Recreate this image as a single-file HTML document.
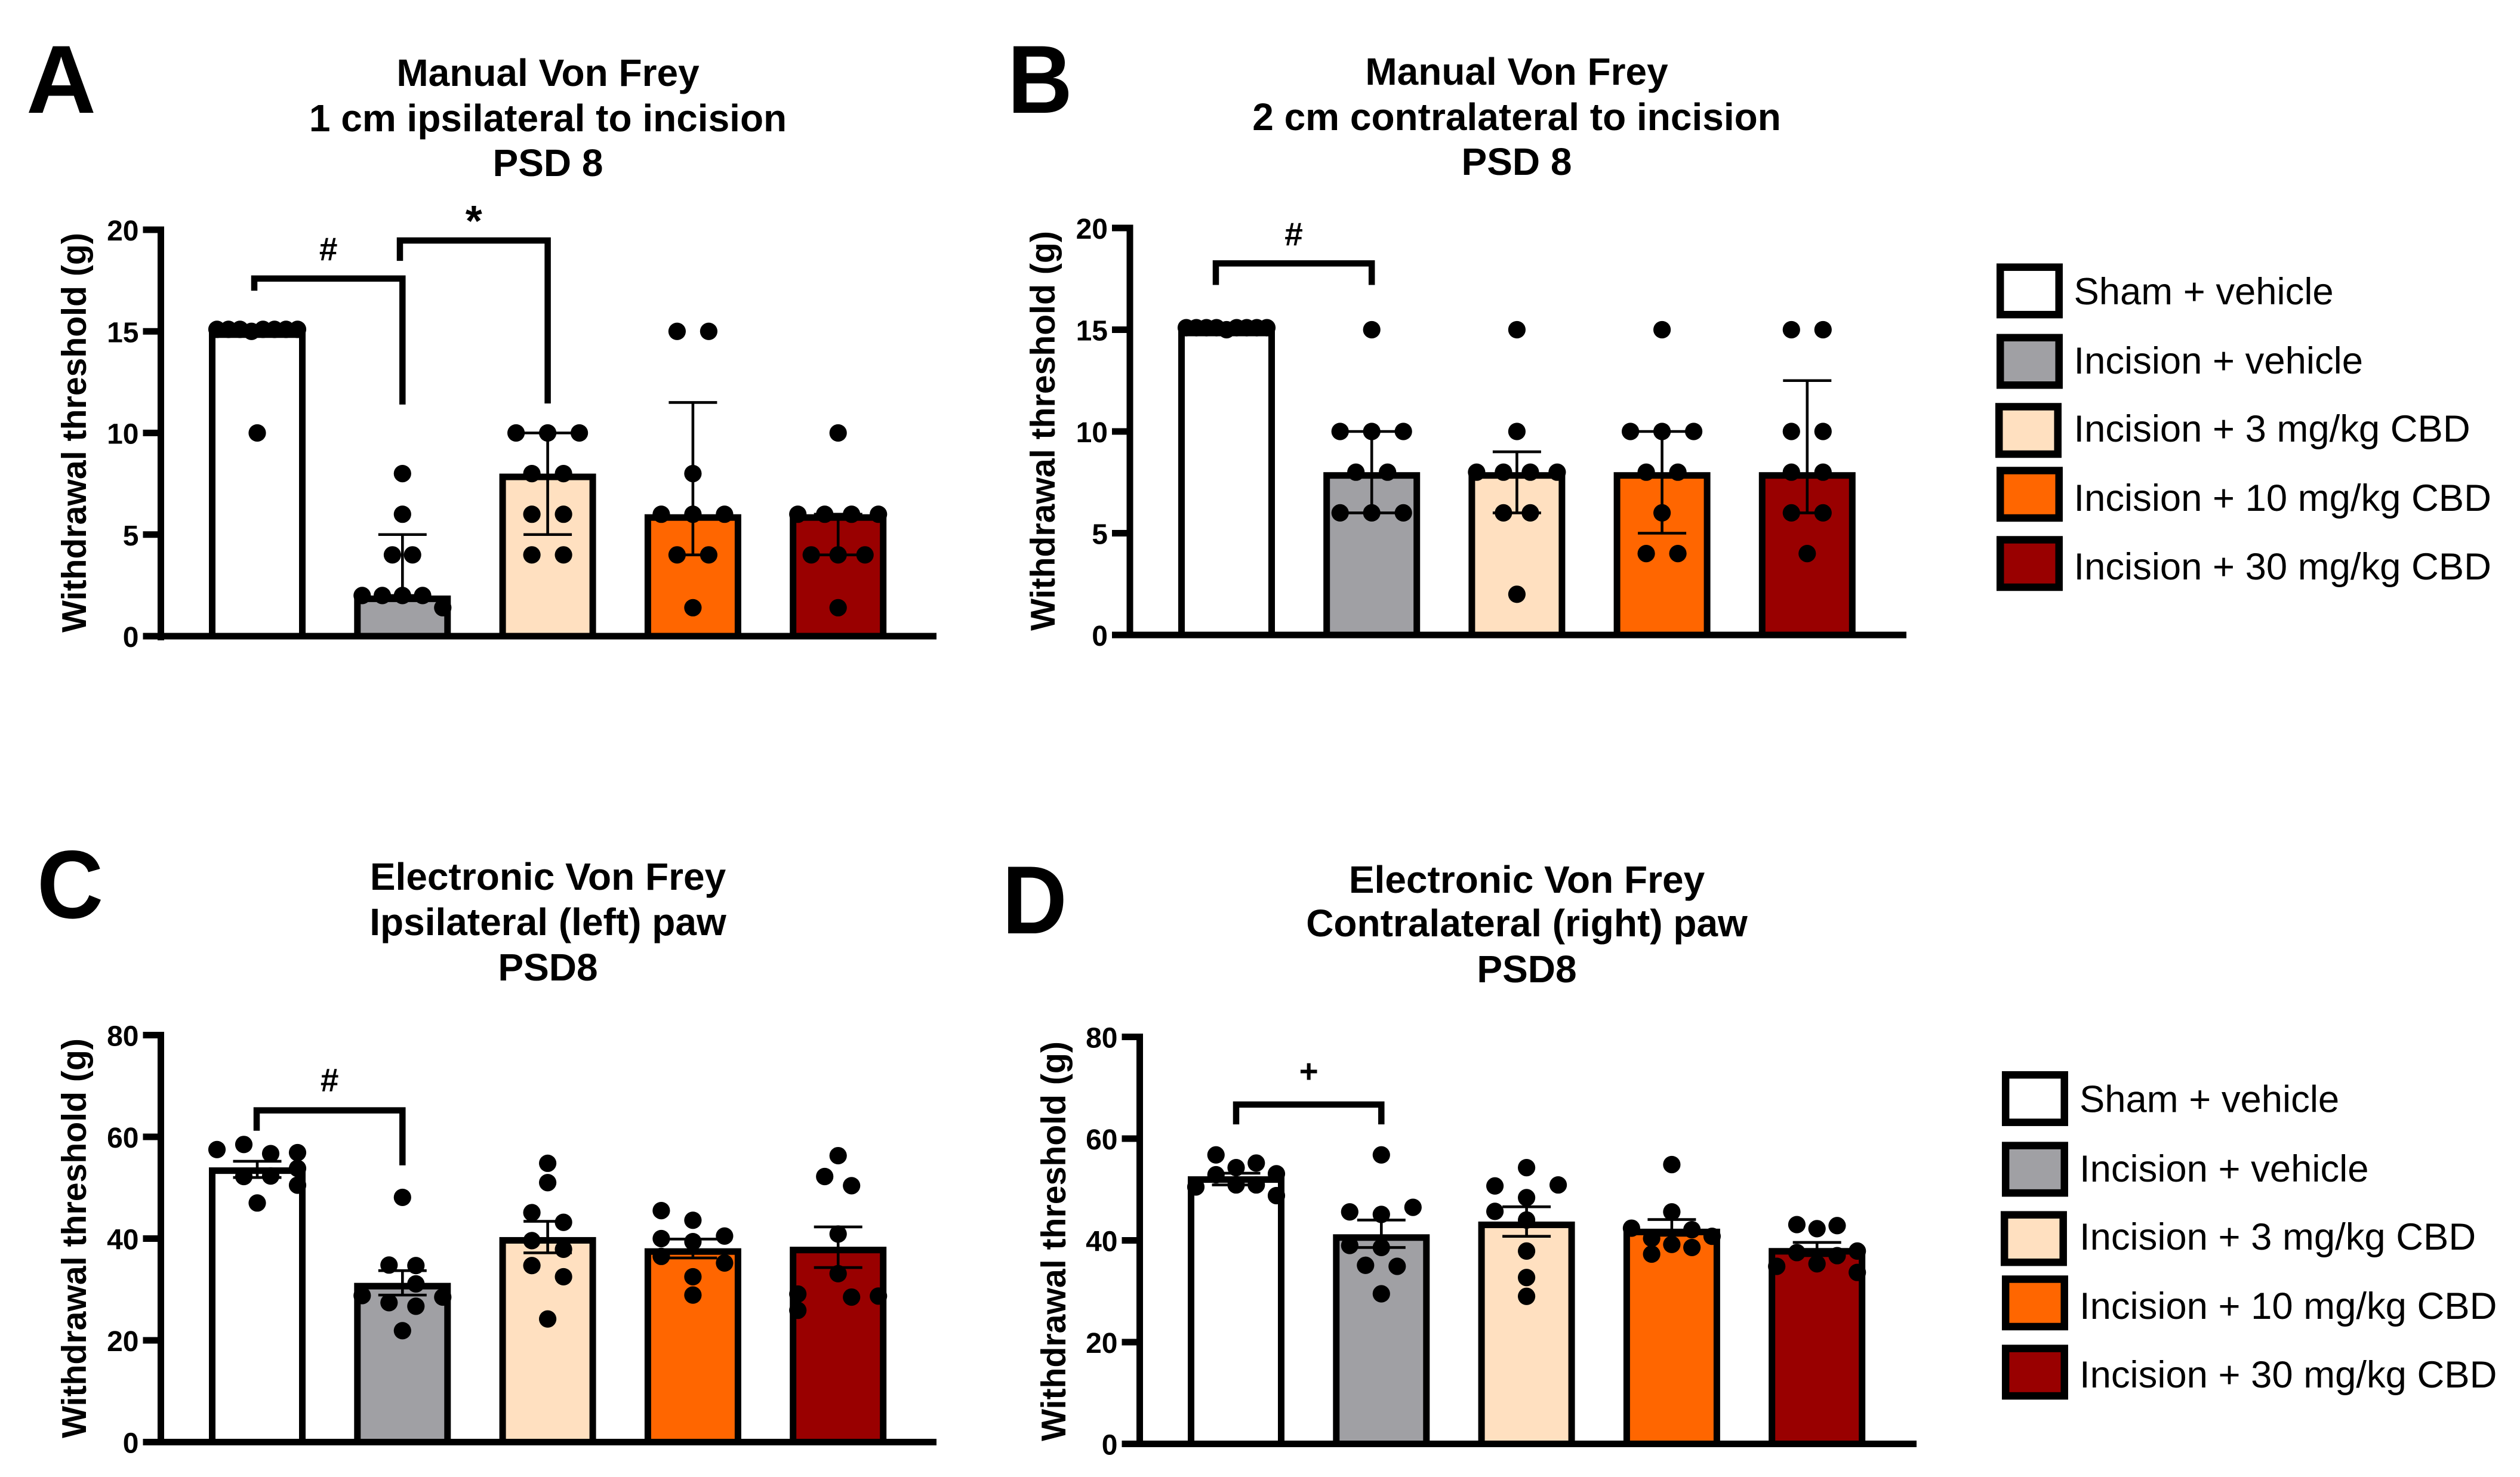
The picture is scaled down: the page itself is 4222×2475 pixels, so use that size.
<!DOCTYPE html>
<html lang="en">
<head>
<meta charset="utf-8">
<title>Von Frey withdrawal thresholds</title>
<style>
html,body{margin:0;padding:0;background:#fff;}
svg{display:block;}
text{font-family:"Liberation Sans",Arial,sans-serif;fill:#000;}
.t{font-weight:bold;font-size:64px;text-anchor:middle;}
.l{font-weight:bold;font-size:162px;}
.yt{font-weight:bold;font-size:57.2px;text-anchor:middle;}
.lg{font-size:63.4px;}
</style>
</head>
<body>
<svg id="fig" xmlns="http://www.w3.org/2000/svg" width="4222" height="2475" viewBox="0 0 4222 2475">
<rect width="4222" height="2475" fill="#fff"/>

<text class="l" x="44" y="189">A</text>
<text class="l" transform="translate(1688,189) scale(0.93,1)">B</text>
<text class="l" transform="translate(62,1538) scale(0.95,1)">C</text>
<text class="l" transform="translate(1679,1564) scale(0.93,1)">D</text>

<g>
<text class="t" x="918" y="144">Manual Von Frey</text>
<text class="t" x="918" y="220">1 cm ipsilateral to incision</text>
<text class="t" x="918" y="295">PSD 8</text>
</g>
<g>
<text class="t" x="2541" y="142">Manual Von Frey</text>
<text class="t" x="2541" y="218">2 cm contralateral to incision</text>
<text class="t" x="2541" y="293">PSD 8</text>
</g>
<g>
<text class="t" x="918" y="1491">Electronic Von Frey</text>
<text class="t" x="918" y="1567">Ipsilateral (left) paw</text>
<text class="t" x="918" y="1643">PSD8</text>
</g>
<g>
<text class="t" x="2558" y="1496">Electronic Von Frey</text>
<text class="t" x="2558" y="1569">Contralateral (right) paw</text>
<text class="t" x="2558" y="1646">PSD8</text>
</g>

<text class="yt" transform="translate(144,725) rotate(-90)">Withdrawal threshold (g)</text>
<text class="yt" transform="translate(1767,722) rotate(-90)">Withdrawal threshold (g)</text>
<text class="yt" transform="translate(144,2075) rotate(-90)">Withdrawal threshold (g)</text>
<text class="yt" transform="translate(1785,2080) rotate(-90)">Withdrawal threshold (g)</text>

<g stroke-width="12.5">
<g><rect x="3351.2" y="447.7" width="98.5" height="79.5" fill="#ffffff" stroke="#000"/><text class="lg" x="3474.5" y="510">Sham + vehicle</text></g>
<g><rect x="3351.2" y="565.8" width="98.5" height="79.5" fill="#a0a0a4" stroke="#000"/><text class="lg" x="3474.5" y="626">Incision + vehicle</text></g>
<g><rect x="3349.2" y="681.5" width="98.5" height="79.5" fill="#ffe0c0" stroke="#000"/><text class="lg" x="3474.5" y="740">Incision + 3 mg/kg CBD</text></g>
<g><rect x="3351.2" y="788.5" width="98.5" height="79.5" fill="#ff6600" stroke="#000"/><text class="lg" x="3474.5" y="856">Incision + 10 mg/kg CBD</text></g>
<g><rect x="3351.2" y="904.5" width="98.5" height="79.5" fill="#990000" stroke="#000"/><text class="lg" x="3474.5" y="971">Incision + 30 mg/kg CBD</text></g>
</g>
<g stroke-width="12.5">
<g><rect x="3360.2" y="1801.2" width="98.5" height="79.5" fill="#ffffff" stroke="#000"/><text class="lg" x="3484" y="1863.6">Sham + vehicle</text></g>
<g><rect x="3360.2" y="1919.6" width="98.5" height="79.5" fill="#a0a0a4" stroke="#000"/><text class="lg" x="3484" y="1980">Incision + vehicle</text></g>
<g><rect x="3358.2" y="2035.7" width="98.5" height="79.5" fill="#ffe0c0" stroke="#000"/><text class="lg" x="3484" y="2094">Incision + 3 mg/kg CBD</text></g>
<g><rect x="3360.2" y="2143.5" width="98.5" height="79.5" fill="#ff6600" stroke="#000"/><text class="lg" x="3484" y="2210">Incision + 10 mg/kg CBD</text></g>
<g><rect x="3360.2" y="2259.6" width="98.5" height="79.5" fill="#990000" stroke="#000"/><text class="lg" x="3484" y="2325">Incision + 30 mg/kg CBD</text></g>
</g>
</svg>

<script>
const categories = ['sham-vehicle','incision-vehicle','incision-3','incision-10','incision-30'];
const ticksManual = [0,5,10,15,20];
const ticksElectronic = [0,20,40,60,80];

const barsA = [15,2,8,6,6];
const lowA = [15,2,5,4,4];
const highA = [15,5,10,11.5,6];
const dotsA = [
  [[15.1,15.1,15.1,15,15.1,15.1,15.1,15.1],[10]],
  [[8],[6],[4,4],[2,2,2,2,1.4]],
  [[10,10,10],[8,8],[6,6],[4,4]],
  [[15,15],[8],[6,6,6],[4,4],[1.4]],
  [[10],[6,6,6,6],[4,4,4],[1.4]]
];

const barsB = [15,8,8,8,8];
const lowB = [15,6,6,5,6];
const highB = [15,10,9,10,12.5];
const dotsB = [
  [[15.1,15.1,15.1,15.1,15,15.1,15.1,15.1,15.1]],
  [[15],[10,10,10],[8,8],[6,6,6]],
  [[15],[10],[8,8,8,8],[6,6],[2]],
  [[15],[10,10,10],[8,8],[6],[4,4]],
  [[15,15],[10,10],[8,8],[6,6],[4]]
];

const barsC = [54,31.3,40.3,38.1,38.4];
const lowC = [52,28.9,37.2,36.2,34.3];
const highC = [55.2,33.7,43.4,39.9,42.3];
const dotsC = [
  [[57.5,58.5,56.7,56.9],[null,52.2,52.3,53.8],[null,null,null,50.5],[47]],
  [[48.1],[34.8,34.7],[null,null,31.1,null],[28.8,27.4,26.7,28.5],[21.9]],
  [[54.8],[51],[45.1,43.2],[39.6,37.9],[34.7,32.5],[24.2]],
  [[45.5,43.6,null],[40,39.4,40.5],[36.5,null,35.2],[32.5],[28.9]],
  [[56.3],[null,52.2,50.4,null],[40.9],[33.1],[29.1,null,28.5,28.7],[25.9,null,null,null]]
];

const barsD = [52.6,41.2,43.7,42.3,38.5];
const lowD = [50.9,38.6,40.8,41,37];
const highD = [53.2,44,46.6,44.1,39.6];
const dotsD = [
  [[null,56.8,54.3,55.2,null],[null,52.9,null,null,53.1],[50.5,null,50.9,50.9,null],[null,null,null,null,48.8]],
  [[56.8],[45.6,45.1,46.5],[39,38.6,null],[35.1,34.9],[29.5]],
  [[54.3],[50.7,null,50.9],[null,48.4,null],[45.7,null,null],[44],[37.9],[32.7],[29]],
  [[54.9],[45.6],[42.4,40.4,39.2,42.1,40.8],[null,37.3,null,38.6,null]],
  [[null,43.1,42.3,42.9,null],[34.9,37.6,35.4,37,37.9],[null,null,null,null,33.7]]
];

const bracketsA = [
  {from:0,to:1,top:17.6,leftEnd:17,rightEnd:11.4,label:'#',labelAt:18.5,dl:-5,dr:0,size:55},
  {from:1,to:2,top:19.47,leftEnd:18.47,rightEnd:11.45,label:'*',labelAt:19.7,dl:-4.3,dr:0,size:72}
];
const bracketsB = [
  {from:0,to:1,top:18.26,leftEnd:17.2,rightEnd:17.2,label:'#',labelAt:19.15,dl:-18,dr:0,size:55}
];
const bracketsC = [
  {from:0,to:1,top:65.2,leftEnd:61.2,rightEnd:54.4,label:'#',labelAt:69,dl:-1,dr:0,size:55}
];
const bracketsD = [
  {from:0,to:1,top:66.7,leftEnd:62.8,rightEnd:62.8,label:'+',labelAt:71,dl:0,dr:0,size:55}
];

const fills = ['#ffffff','#a0a0a4','#ffe0c0','#ff6600','#990000'];
const NS = 'http://www.w3.org/2000/svg';
const fig = document.getElementById('fig');

function mk(tag, attrs, parent){
  const el = document.createElementNS(NS, tag);
  for (const k in attrs) el.setAttribute(k, attrs[k]);
  parent.appendChild(el);
  return el;
}

function drawPanel(p){
  const yMax = p.ticks[p.ticks.length-1];
  const yScale = v => p.y0 - v/yMax*(p.y0-p.yTop);
  const xScale = i => p.cx0 + i*p.gap;
  const g = mk('g', {}, fig);
  
  

  categories.forEach((cat, i) => {
    const cx = xScale(i);
    const topY = yScale(p.bars[i]) + 5.5;
    const bar = mk('rect', {x:cx-75.5, y:topY, width:151, height:p.y0-topY, fill:fills[i], stroke:'#000', 'stroke-width':11}, g);
    
    

    const err = mk('path', {
      d:'M'+cx+' '+yScale(p.high[i])+'V'+yScale(p.low[i])+
        'M'+(cx-40.5)+' '+yScale(p.high[i])+'H'+(cx+40.5)+
        'M'+(cx-40.5)+' '+yScale(p.low[i])+'H'+(cx+40.5),
      fill:'none', stroke:'#000', 'stroke-width':4.6}, g);
    
    

    const rows = p.dots[i];
    const maxN = Math.max.apply(null, rows.map(r => r.length));
    const step = maxN > 1 ? Math.min(53, 135/(maxN-1)) : 53;
    rows.forEach(row => {
      row.forEach((v, j) => {
        if (v === null) return;
        const dot = mk('circle', {cx:cx+(j-(row.length-1)/2)*step, cy:yScale(v), r:14.6, fill:'#000'}, g);
        
        
      });
    });
  });

  const yAxis = mk('path', {d:'M'+p.axisX+' '+(p.yTop-5.5)+'V'+(p.y0+p.axisDrop), fill:'none', stroke:'#000', 'stroke-width':11}, g);
  
  

  const xAxis = mk('path', {d:'M'+(p.axisX-30)+' '+p.y0+'H'+p.xEnd, fill:'none', stroke:'#000', 'stroke-width':11}, g);
  
  

  p.ticks.forEach(t => {
    const tick = mk('path', {d:'M'+(p.axisX-30)+' '+yScale(t)+'H'+p.axisX, fill:'none', stroke:'#000', 'stroke-width':11}, g);
    
    
    const label = mk('text', {x:p.axisX-37, y:yScale(t)+18, 'text-anchor':'end', 'font-weight':'bold', 'font-size':48}, g);
    label.textContent = String(t);
    
    
  });

  p.brackets.forEach(b => {
    const xl = xScale(b.from) + b.dl;
    const xr = xScale(b.to) + b.dr;
    const path = mk('path', {d:'M'+xl+' '+yScale(b.leftEnd)+'V'+yScale(b.top)+'H'+xr+'V'+yScale(b.rightEnd), fill:'none', stroke:'#000', 'stroke-width':10.5, 'stroke-linejoin':'miter'}, g);
    
    
    const mark = mk('text', {x:(xl+xr)/2, y:yScale(b.labelAt), 'text-anchor':'middle', 'font-weight':'bold', 'font-size':b.size}, g);
    mark.textContent = b.label;
    
    
  });
}

drawPanel({id:'a', ticks:ticksManual, bars:barsA, low:lowA, high:highA, dots:dotsA, brackets:bracketsA,
  axisX:269.5, y0:1066, yTop:385, cx0:431, gap:243.3, xEnd:1569, axisDrop:7});
drawPanel({id:'b', ticks:ticksManual, bars:barsB, low:lowB, high:highB, dots:dotsB, brackets:bracketsB,
  axisX:1893, y0:1064, yTop:382, cx0:2055, gap:243.2, xEnd:3194, axisDrop:5});
drawPanel({id:'c', ticks:ticksElectronic, bars:barsC, low:lowC, high:highC, dots:dotsC, brackets:bracketsC,
  axisX:269.5, y0:2416.5, yTop:1734.5, cx0:431, gap:243.3, xEnd:1569, axisDrop:5});
drawPanel({id:'d', ticks:ticksElectronic, bars:barsD, low:lowD, high:highD, dots:dotsD, brackets:bracketsD,
  axisX:1909.5, y0:2419.5, yTop:1737.5, cx0:2071, gap:243.3, xEnd:3211, axisDrop:5});
</script>
</body>
</html>
